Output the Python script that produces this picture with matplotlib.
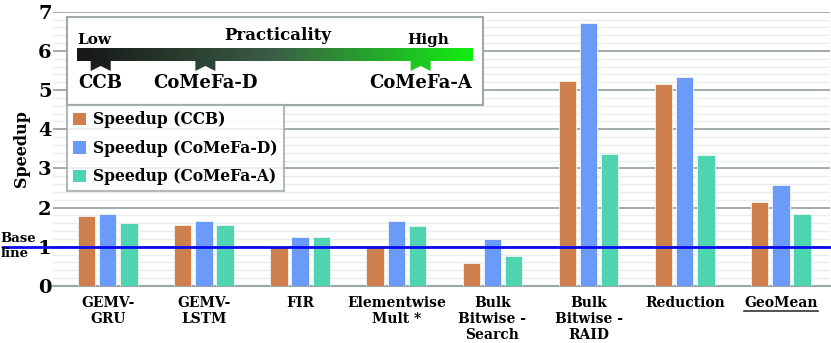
import numpy as np
import matplotlib.pyplot as plt
from matplotlib.colors import LinearSegmentedColormap
from matplotlib.patches import Polygon, Patch
from matplotlib.lines import Line2D

plt.rcParams['font.family'] = 'DejaVu Serif'
plt.rcParams['font.weight'] = 'bold'

# data
categories = ['GEMV-\nGRU', 'GEMV-\nLSTM', 'FIR', 'Elementwise\nMult *',
              'Bulk\nBitwise -\nSearch', 'Bulk\nBitwise -\nRAID', 'Reduction', 'GeoMean']
ccb = [1.79, 1.56, 1.01, 1.00, 0.58, 5.24, 5.15, 2.14]
comefa_d = [1.84, 1.66, 1.24, 1.67, 1.19, 6.70, 5.33, 2.57]
comefa_a = [1.61, 1.56, 1.24, 1.52, 0.77, 3.36, 3.34, 1.83]
series_names = ['Speedup (CCB)', 'Speedup (CoMeFa-D)', 'Speedup (CoMeFa-A)']
colors = ['#CF7F4C', '#6A9BF8', '#4DD4B0']

# practicality scale: position of each design along the Low->High bar (0..1)
prac_names = ['CCB', 'CoMeFa-D', 'CoMeFa-A']
prac_pos = [0.06, 0.325, 0.87]

W, H = 831, 343
fig = plt.figure(figsize=(W / 100, H / 100), dpi=100)
ax = fig.add_axes([53 / W, 57 / H, 777 / W, 274.3 / H])

x = np.arange(len(categories))
bw, step = 0.18, 0.22
for i, (vals, c) in enumerate(zip([ccb, comefa_d, comefa_a], colors)):
    ax.bar(x + (i - 1) * step, vals, width=bw, color=c, edgecolor='#f4f4f4',
           linewidth=0.6, zorder=3)

ax.set_xlim(-0.57, 7.51)
ax.set_ylim(0, 7)
ax.set_yticks(range(8))
ax.set_yticks(np.arange(0, 7.01, 0.2), minor=True)
ax.grid(axis='y', which='major', color='#9BA6A8', lw=1.3, zorder=1)
ax.grid(axis='y', which='minor', color='#E9EDED', lw=1.0, zorder=0)
ax.tick_params(axis='y', which='both', length=0, pad=1, labelsize=14)
ax.tick_params(axis='x', length=0, pad=7, labelsize=10)
ax.set_xticks(x)
ax.set_xticklabels(categories, linespacing=1.2, va='top')
for s in ['top', 'right', 'left']:
    ax.spines[s].set_visible(False)
ax.spines['bottom'].set_color('#9BA6A8')
ax.spines['bottom'].set_linewidth(1.5)
ax.set_ylabel('Speedup', fontsize=11.5, fontweight='bold', labelpad=6)

# baseline
ax.plot([-0.064, 1], [1, 1], transform=ax.get_yaxis_transform(), color='#0A0AEE',
        lw=2, clip_on=False, zorder=4)
fig.text(0.5 / W, 1 - 246 / H, 'Base\nline', fontsize=9.5, fontweight='bold',
         ha='left', va='center', linespacing=1.25)

# series legend
handles = [Patch(facecolor=c, edgecolor='none') for c in colors]
leg = fig.legend(handles, series_names, loc='upper left',
                 bbox_to_anchor=(67 / W, 1 - 105 / H), fontsize=11.2,
                 frameon=True, fancybox=False, edgecolor='#A0A8AA',
                 handlelength=0.85, handleheight=0.85, handletextpad=0.4,
                 borderpad=0.4, labelspacing=0.74, borderaxespad=0)
leg.get_frame().set_linewidth(1.5)

# practicality box
bx = fig.add_axes([67 / W, 1 - 105 / H, 416 / W, 88 / H])
bx.set_xlim(0, 416)
bx.set_ylim(88, 0)
bx.set_xticks([])
bx.set_yticks([])
for s in bx.spines.values():
    s.set_color('#A0A8AA')
    s.set_linewidth(1.5)
cmap = LinearSegmentedColormap.from_list('prac', ['#161616', '#3b5f46', '#12EE12'])
x0, x1, y0, y1 = 10, 405, 31, 44
bx.imshow(np.linspace(0, 1, 256)[None, :], cmap=cmap, aspect='auto',
          extent=[x0, x1, y1, y0], zorder=2)
bx.text(x0, y0 - 1, 'Low', fontsize=11, fontweight='bold', ha='left', va='bottom')
bx.text(x1 - 65, y0 - 1, 'High', fontsize=11, fontweight='bold', ha='left', va='bottom')
bx.text(211, 19, 'Practicality', fontsize=12, fontweight='bold', ha='center', va='center')
for name, p in zip(prac_names, prac_pos):
    cx = x0 + p * (x1 - x0)
    col = cmap(p)
    tail = Polygon([[cx - 10, y1], [cx + 10, y1], [cx + 10, y1 + 10],
                    [cx, y1 + 5], [cx - 10, y1 + 10]], closed=True,
                   facecolor=col, edgecolor='none', zorder=2)
    bx.add_patch(tail)
    bx.text(cx, y1 + 22, name, fontsize=13, fontweight='bold', ha='center', va='center')

# underline GeoMean
fig.canvas.draw()
lab = ax.get_xticklabels()[-1]
bb = lab.get_window_extent()
fig.add_artist(Line2D([bb.x0 / W, bb.x1 / W], [(bb.y0 - 1) / H, (bb.y0 - 1) / H],
                      transform=fig.transFigure, color='#333333', lw=1.2))

fig.savefig('out.png', dpi=100)
